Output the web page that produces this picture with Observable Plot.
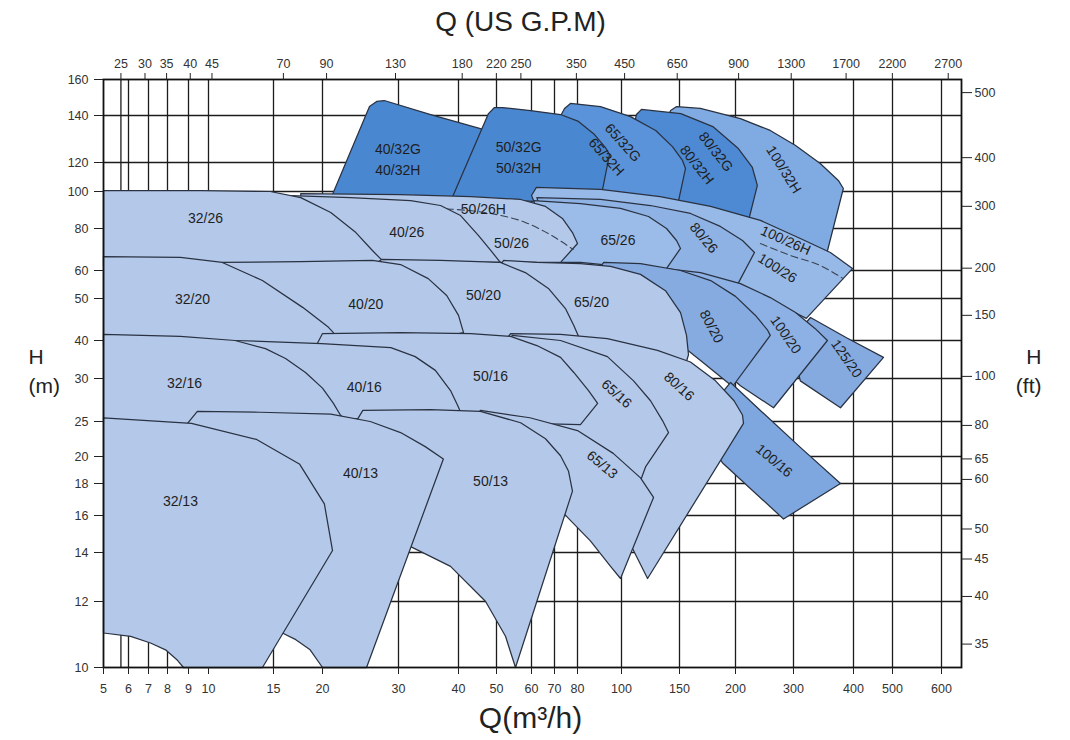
<!DOCTYPE html>
<html><head><meta charset="utf-8">
<script src="https://cdn.jsdelivr.net/npm/d3@7"></script>
<script src="https://cdn.jsdelivr.net/npm/@observablehq/plot@0.6"></script>
<style>
html,body{margin:0;padding:0;background:#fff;}
#chart{width:1070px;height:740px;}
</style></head><body><div id="chart"></div>
<script>
// ---- axis ticks ----
const qTicks = [5,6,7,8,9,10,15,20,30,40,50,60,70,80,100,150,200,300,400,500,600];
const hTicks = [10,12,14,16,18,20,25,30,40,50,60,80,100,120,140,160];
const gpmTicks = [25,30,35,40,45,70,90,130,180,220,250,350,450,650,900,1300,1700,2200,2700];
const ftTicks = [35,40,45,50,60,65,80,100,150,200,300,400,500];

// ---- pump areas, [Q m3/h, H m] ----
const s100_32H = [[141,142.6],[147,144.7],[167,143.7],[207,138.6],[255,133.3],[303,126.9],[341,119.2],[372,107.2],[381,101.9],[351,66.5],[238,76.2],[167,86.5],[131,94.7],[127,129]];
const s80_32 = [[111,140.5],[115,143.2],[151,141],[178,135],[204,125.6],[225,116.3],[233,103.9],[216,80],[151,84],[103,94.7],[106.5,129]];
const s65_32 = [[74.2,143.7],[76.8,146.4],[89.9,144.7],[106.5,139.5],[127,133.3],[142.8,126.4],[152.3,120.8],[154.7,115.6],[146.9,89.2],[89.9,89.2],[70.4,89.2],[70.4,135.5]];
const s50_32 = [[38.9,97],[47.7,141],[49.4,144.2],[51.6,144.2],[59.7,142.6],[72.5,140.5],[80.4,137.3],[87.2,131.5],[92.2,126],[94.1,123.2],[89.4,92]];
const s40_32 = [[21,97],[25.7,144.7],[26.7,147.5],[27.8,148],[35,140.5],[45.5,134.1],[51,131.1],[51,97]];

const s100_26 = [[60,97.6],[62,102.6],[89.9,101.3],[131,97],[176,91.4],[238,84],[310,74.7],[358,67.9],[398,60.8],[319,45],[255,49.5],[185,54.4],[122.5,58.1],[72.5,62.1]];
const s80_26 = [[62.2,96.4],[89.9,95.3],[122.5,91.9],[158.7,87.6],[185,81],[210,73.7],[228.4,67.9],[200,53.4],[167.1,58.1],[122.5,61.7],[89.9,63.4],[70.8,63.4]];
const s65_26 = [[60.8,94.7],[81.2,93],[99.5,90.3],[120.8,86],[137,80],[146.9,73.7],[150.8,69.8],[131,57.3],[99.5,61.7],[81.2,63.4],[70.8,63.4]];
const s50_26 = [[17.6,98.8],[30.3,98.2],[43,97],[56.7,95.3],[65.9,91.4],[73.3,85],[77.7,77.8],[80,72.2],[72.5,63.4],[51,63.4],[33.3,63.4],[27.3,63.4],[17.6,78.9]];
const s40_26 = [[16.6,97.6],[23.2,96.4],[31.8,94.7],[36.7,91.9],[40.5,86.5],[45,76.2],[48.8,67.9],[51,63.4],[27.3,63.4],[16.6,68.8]];
const s32_26 = [[5,100.6],[9.59,100.6],[14.7,100],[17.6,96.4],[20.9,88.1],[23.9,77.8],[26.1,68.8],[27.5,64.3],[27.5,62],[5,62]];
const d50_26H = [[35.8,90.3],[48.3,87.6],[58.1,83],[69.5,75.7],[78,69.3]];
const d100_26H = [[238,72.2],[293.8,66.5],[341,62.1],[381,56.9]];

const s125_20 = [[325.5,45.2],[386.8,40.6],[474.9,35.2],[375.8,26.5],[310,29.7],[293.8,40]];
const s100_20 = [[136,60.8],[167.1,59.2],[207,55.1],[255,50.3],[303,46.4],[333,42.6],[353,40],[260.9,26.5],[207,29.1],[167.1,37.1],[140.9,49.5]];
const s80_20 = [[89.2,60.8],[91.4,63.4],[114.2,62.9],[150.8,60],[176,56.2],[200,50.7],[230,45.7],[250.6,42.2],[255,41.1],[197,29],[167.1,34.4],[122.5,44.5]];
const s65_20 = [[50.3,60.8],[51.9,64.3],[62.2,63.4],[81.2,62.9],[94.6,61.7],[114.2,58.5],[136,52.6],[150.8,46.4],[155.5,41.1],[157.1,35.9],[150.8,29.7],[89.9,40],[62.2,41.1]];
const s50_20 = [[26.1,61.7],[27.4,64.7],[36.7,64.3],[51,63.4],[58.1,59.2],[67.2,53.4],[74.6,47.4],[78.3,43.3],[80.4,40.9],[51,38.5],[27.4,38.5]];
const s40_20 = [[10.9,63.4],[17.6,63.8],[26.1,64.3],[30.3,62.5],[34.6,56.9],[37.8,51],[40,45.7],[41.2,41.7],[30.3,38.5],[13.8,38.5]];
const s32_20 = [[5,66],[8.6,65.6],[10.9,63.4],[14,56.2],[17.8,47.7],[20.65,42.9],[21.2,41.7],[21.2,38.5],[5,38.5]];

const s100_16 = [[195,29.5],[238,26.2],[310,21.2],[375.8,18],[279.8,15.8],[187.2,19.5],[171.4,22.1],[180.5,27.3]];
const s80_16 = [[52.4,40],[53.8,41.5],[72.5,41.3],[93.1,40.4],[128.6,37.1],[158.7,34],[180.5,29.7],[198.5,27.3],[210,25.7],[211.5,24.7],[120,12.9],[108,14.2],[94.6,16.9],[72.5,22.1],[56.7,27.3]];
const s65_16 = [[52.7,39.4],[54.3,41.1],[72.5,40],[93.1,35.4],[108.8,29.7],[122.5,27.3],[133.2,25.1],[138.9,23.3],[118.3,19.2],[114.2,18.2],[95.9,19.8],[80,23.3],[62.2,24.6]];
const s50_16 = [[19.4,39.1],[20,41.5],[30.3,41.7],[43,41.5],[53.8,40.9],[62.2,38.5],[72.5,35.2],[78.3,31.4],[84.6,28.5],[88.6,27],[81.2,24.5],[51,24.8],[30.3,25.1]];
const s40_16 = [[11.8,40],[19.9,39.1],[28.8,37.9],[32.5,35.4],[35.8,31.9],[38.5,28.5],[39.8,26.8],[40.5,26],[30.3,25.3],[17.6,25.3]];
const s32_16 = [[5,41.3],[8.6,40.9],[11.8,40],[14.27,37.6],[16.1,34.9],[18.1,31.4],[20,28.8],[21.2,27],[22,25.7],[22.3,25.4],[9.1,24.6],[5,25.2]];

const s65_13 = [[43.9,25.1],[45.5,26.2],[59.5,25.4],[80,23.6],[95.9,20.4],[114.2,18.4],[125.1,17.1],[99.5,12.9],[94.6,13.4],[85.4,14.6],[73.3,16.2]];
const s50_13 = [[24,25.1],[24.8,26.2],[35,26.3],[45.5,26.1],[56.7,24.8],[65.9,22.4],[72.5,20.1],[75.9,18.9],[77.7,17.5],[55.2,10],[52.4,10.9],[46.9,12],[38.5,13.4],[31.8,14.3],[27.3,14.6]];
const s40_13 = [[8.95,24.7],[9.43,26.1],[13.8,26],[20.9,25.8],[25.8,25],[30.3,23.3],[34.1,21.3],[37.2,19.8],[25.3,10],[20,10],[18.6,10.5],[17.1,10.8],[15.8,11],[13.8,11],[10.8,12]];
const s32_13 = [[5,25.4],[9.14,24.7],[13.5,22.3],[17.5,19.4],[20.2,16.7],[21.1,14.1],[14,10],[8.75,10],[8.46,10.2],[7.89,10.5],[7.1,10.7],[6.1,10.9],[5,11]];

// ---- labels ----
const labelText = ["40/32G\n40/32H","50/32G\n50/32H","65/32G","65/32H","80/32G","80/32H","100/32H",
  "32/26","40/26","50/26H","50/26","65/26","80/26","100/26H","100/26",
  "32/20","40/20","50/20","65/20","80/20","100/20","125/20",
  "32/16","40/16","50/16","65/16","80/16","100/16",
  "32/13","40/13","50/13","65/13"];
const labelQ = [29.9,56.1,102.1,93.3,182.4,165.4,283.7,
  9.84,31.2,46.3,54.1,98.2,171.4,285.7,270.1,
  9.19,25.2,46.3,85.9,178.6,287.7,390,
  8.8,25,48.3,98.2,150.8,264.5,
  8.6,24.5,48.3,91.3];
const labelH = [122,122.8,128.6,122.8,124.8,119.2,115.6,
  86,78.9,90.8,73.2,74.7,75.7,74.7,61.7,
  50.3,49,51.6,49.5,43.3,41.5,35.2,
  29.6,29.1,30.9,28.3,29.2,19.8,
  17,18.9,18.3,19.5];
const labelAngle = [0,0,48,48,52,52,58,
  0,0,0,0,0,50,24,32,
  0,0,0,0,62,55,55,
  0,0,0,42,42,40,
  0,0,0,40];

// ---- drawing order (back to front) with fills ----
const dark = "#4a87d1", light = "#b4c9ea";
const row32 = [[s100_32H,"#80aae2"],[s80_32,"#4e8ad3"],[s65_32,"#5a93d9"],[s40_32,dark],[s50_32,dark]];
const row26a = [[s100_26,"#97b9e7"]];
const row26b = [[s80_26,"#8fb2e4"],[s65_26,"#9bbbe8"],[s50_26,light]];
const row26c = [[s40_26,light],[s32_26,light]];
const rowLow = [
  [s125_20,"#84aae0"],[s100_20,"#8db1e4"],[s80_20,"#86abe1"],[s65_20,light],[s50_20,light],[s40_20,light],[s32_20,light],
  [s100_16,"#7ea7df"],[s80_16,light],[s65_16,light],[s50_16,light],[s40_16,light],[s32_16,light],
  [s65_13,light],[s50_13,light],[s40_13,light],[s32_13,light]
];

const gpmQ = gpmTicks.map(g => g * 0.2271);
const ftH = ftTicks.map(f => f * 0.3048);
const qGrid = [gpmQ[0], ...qTicks.slice(1)];
const hGrid = hTicks.slice(1, -1);

const font = "Liberation Sans, Arial, Helvetica, sans-serif";
const lineColor = "#2a3242";
const areas = rows => rows.map(([pts, fill]) => Plot.line(pts, {x: d => d[0], y: d => d[1], curve: "linear-closed", fill, stroke: lineColor, strokeWidth: 1.25}));
const dashOpts = {x: d => d[0], y: d => d[1], stroke: "#3a4352", strokeWidth: 1.1, strokeDasharray: "7,4", curve: "monotone-x"};
const blank = () => "";
const tickText = {fontSize: 12.5, fill: "#333", lineAnchor: "middle"};
const titleText = {fill: "#222", lineAnchor: "middle"};

const chart = Plot.plot({
  width: 1070, height: 740,
  marginLeft: 103, marginRight: 109, marginTop: 79, marginBottom: 73,
  style: {fontFamily: font, fontSize: "12px", color: "#222", background: "#fff"},
  x: {type: "log", domain: [...qTicks, 640],
      range: [103,128,148,167,188,208,273,322,398,458,496,531,554,577,621,679,735,793,853,892,941,961]},
  y: {type: "log", domain: hTicks,
      range: [667,601,552,515,483,456,421,378,340,298,270,228,191,162,115,79]},
  marks: [
    Plot.ruleY(hGrid, {stroke: "#1c1c1c", strokeWidth: 1.3}),
    Plot.ruleX(qGrid, {stroke: "#1c1c1c", strokeWidth: 1.3}),
    ...areas(row32),
    ...areas(row26a),
    Plot.line(d100_26H, dashOpts),
    ...areas(row26b),
    Plot.line(d50_26H, dashOpts),
    ...areas(row26c),
    ...areas(rowLow),
    Plot.frame({stroke: "#111", strokeWidth: 1.8}),
    Plot.axisX(qTicks, {anchor: "bottom", tickSize: 7, tickFormat: blank, label: null}),
    Plot.axisX(gpmQ, {anchor: "top", tickSize: 7, tickFormat: blank, label: null}),
    Plot.axisY(hTicks, {anchor: "left", tickSize: 9, tickFormat: blank, label: null}),
    Plot.axisY(ftH, {anchor: "right", tickSize: 10, tickFormat: blank, label: null}),
    Plot.text(qTicks, {x: d => d, frameAnchor: "bottom", dy: 21, text: d => String(d), ...tickText}),
    Plot.text(gpmQ, {x: d => d, frameAnchor: "top", dy: -16, text: (d, i) => String(gpmTicks[i]), ...tickText}),
    Plot.text(hTicks, {y: d => d, frameAnchor: "left", dx: -15, textAnchor: "end", text: d => String(d), ...tickText}),
    Plot.text(ftH, {y: d => d, frameAnchor: "right", dx: 13, textAnchor: "start", text: (d, i) => String(ftTicks[i]), ...tickText}),
    Plot.text(labelText, {x: (d, i) => labelQ[i], y: (d, i) => labelH[i], text: d => d, rotate: (d, i) => labelAngle[i], fontSize: 14, fill: "#1e1e1e", lineHeight: 1.5}),
    Plot.text(["Q (US G.P.M)"], {frameAnchor: "top", dx: -12, dy: -57, fontSize: 28, ...titleText}),
    Plot.text(["Q(m³/h)"], {frameAnchor: "bottom", dx: -2, dy: 51, fontSize: 30, ...titleText}),
    Plot.text(["H"], {frameAnchor: "left", dx: -75, dy: -16, fontSize: 21, ...titleText}),
    Plot.text(["(m)"], {frameAnchor: "left", dx: -75, dy: 13, fontSize: 21, ...titleText}),
    Plot.text(["H"], {frameAnchor: "right", dx: 80, dy: -16, fontSize: 21, ...titleText}),
    Plot.text(["(ft)"], {frameAnchor: "right", dx: 80, dy: 13, fontSize: 21, ...titleText})
  ]
});
document.getElementById("chart").append(chart);
</script>
</body></html>
